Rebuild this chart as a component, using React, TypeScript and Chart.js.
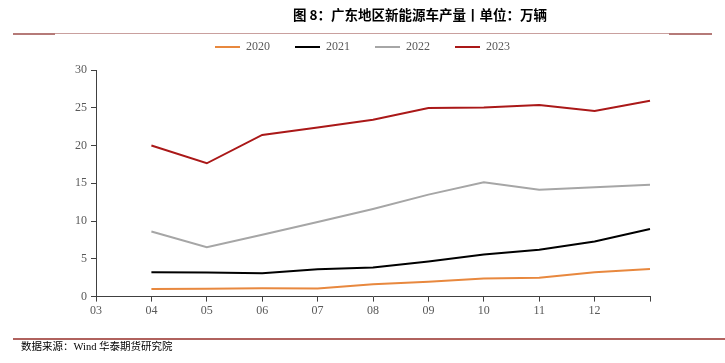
import React, { useEffect, useRef } from "react";
import { Chart, registerables } from "chart.js";

Chart.register(...registerables);

const categories = ["03", "04", "05", "06", "07", "08", "09", "10", "11", "12", ""];
const s2020 = [null, 1.02, 1.05, 1.1, 1.06, 1.64, 1.95, 2.39, 2.48, 3.23, 3.67];
const s2021 = [null, 3.23, 3.2, 3.1, 3.63, 3.85, 4.65, 5.57, 6.2, 7.3, 8.94];
const s2022 = [null, 8.63, 6.55, 8.19, 9.87, 11.6, 13.5, 15.13, 14.16, 14.47, 14.82];
const s2023 = [null, 20.0, 17.65, 21.4, 22.4, 23.4, 24.96, 25.05, 25.35, 24.56, 25.93];
const yTicks = [0, 5, 10, 15, 20, 25, 30];

const titleText = "图 8：广东地区新能源车产量丨单位：万辆";
const sourceText = "数据来源：Wind 华泰期货研究院";

const decor = {
  id: "decor",
  beforeDraw(chart: any) {
    const ctx = chart.ctx;
    ctx.save();
    ctx.fillStyle = "#000";
    ctx.font = "bold 13.5px 'Noto Sans CJK SC', sans-serif";
    ctx.textAlign = "center";
    ctx.textBaseline = "middle";
    ctx.fillText(titleText, 420, 15);
    // top rule
    ctx.fillStyle = "#B57A78";
    ctx.fillRect(13, 33, 42, 2);
    ctx.fillRect(669, 33, 43, 2);
    ctx.fillStyle = "#C9A09E";
    ctx.fillRect(55, 33, 614, 1);
    // bottom rule
    ctx.fillStyle = "#B0625E";
    ctx.fillRect(13, 338, 712, 2);
    ctx.fillStyle = "#000";
    ctx.font = "10.5px 'Liberation Serif', 'Noto Sans CJK SC', serif";
    ctx.textAlign = "left";
    ctx.fillText(sourceText, 21, 347);
    ctx.restore();
  },
};

function mk(label: string, data: (number | null)[], color: string) {
  return {
    label,
    data,
    borderColor: color,
    backgroundColor: color,
    borderWidth: 2,
    pointRadius: 0,
    tension: 0,
    spanGaps: false,
    xAxisID: "x",
    yAxisID: "y",
  };
}

export default function App() {
  const ref = useRef<HTMLCanvasElement>(null);
  useEffect(() => {
    document.body.style.margin = "0";
    const chart = new Chart(ref.current as HTMLCanvasElement, {
      type: "line",
      data: {
        labels: categories,
        datasets: [
          mk("2020", s2020, "#E8883E"),
          mk("2021", s2021, "#000000"),
          mk("2022", s2022, "#A6A6A6"),
          mk("2023", s2023, "#AA1818"),
        ],
      },
      options: {
        animation: false,
        responsive: false,
        layout: { padding: { top: 16, right: 0, bottom: 43, left: 0 } },
        plugins: {
          tooltip: { enabled: false },
          legend: {
            display: true,
            position: "top",
            labels: {
              boxWidth: 25,
              boxHeight: 2,
              padding: 25,
              color: "#595959",
              font: { family: "'Liberation Serif', serif", size: 12 },
              generateLabels(chart: any) {
                const items = Chart.defaults.plugins.legend.labels.generateLabels(chart);
                return items.map((it: any) => ({ ...it, lineWidth: 0 }));
              },
            },
          },
        },
        scales: {
          x: {
            offset: false,
            grid: {
              display: true,
              drawOnChartArea: false,
              drawTicks: true,
              tickLength: 5,
              color: "#404040",
            },
            border: { display: true, color: "#404040", width: 1 },
            ticks: {
              color: "#595959",
              padding: 2,
              font: { family: "'Liberation Serif', serif", size: 12 },
              autoSkip: false,
              maxRotation: 0,
            },
          },
          xTop: {
            type: "category",
            position: "top",
            display: true,
            offset: false,
            afterFit(scale: any) {
              scale.height = 7;
            },
            grid: { display: false, drawTicks: false },
            border: { display: false },
            ticks: { display: false },
          },
          y: {
            min: 0,
            max: 30,
            afterFit(scale: any) {
              scale.width = 96;
            },
            afterBuildTicks(scale: any) {
              scale.ticks = yTicks.map((v) => ({ value: v }));
            },
            grid: {
              display: true,
              drawOnChartArea: false,
              drawTicks: true,
              tickLength: 5,
              color: "#404040",
            },
            border: { display: true, color: "#404040", width: 1 },
            ticks: {
              color: "#595959",
              padding: 4,
              font: { family: "'Liberation Serif', serif", size: 12 },
            },
          },
          yRight: {
            position: "right",
            display: true,
            min: 0,
            max: 30,
            afterFit(scale: any) {
              scale.width = 75;
            },
            grid: { display: false, drawTicks: false },
            border: { display: false },
            ticks: { display: false },
          },
        },
      },
      plugins: [decor],
    } as any);
    return () => chart.destroy();
  }, []);
  return (
    <div style={{ position: "absolute", left: 0, top: 0, width: 725, height: 363 }}>
      <canvas ref={ref} width={725} height={363} style={{ width: 725, height: 363 }} />
    </div>
  );
}
